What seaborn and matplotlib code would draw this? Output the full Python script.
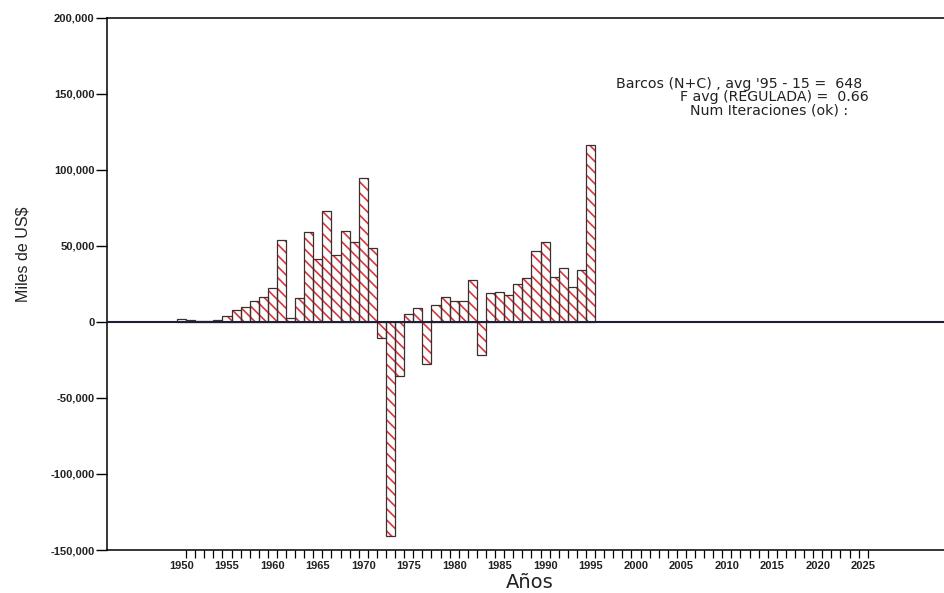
import matplotlib
matplotlib.use("Agg")
import matplotlib.pyplot as plt
from matplotlib.ticker import FuncFormatter
import numpy as np
import seaborn as sns

# valores (miles de US$)
years = list(range(1950, 1996))
values = [1800, 1200, 600, 300, 1200, 4000, 7700, 10000, 13800, 16000, 22500,
          53500, 2400, 15500, 59300, 41100, 72800, 43900, 59700, 52700, 94200, 48800,
          -10900, -140800, -35800, 5000, 9000, -27700, 11000, 16000, 13600, 13600, 27300,
          -21600, 19000, 19700, 17500, 24700, 29100, 46600, 52500, 29500, 35400, 22600,
          33900, 115900]
y_ticks = list(range(-150000, 200001, 50000))
x_labels = list(range(1950, 2026, 5))
notes = ["Barcos (N+C) , avg '95 - 15 =  648",
         "F avg (REGULADA) =  0.66",
         "Num Iteraciones (ok) :"]

sns.set_theme(style="white")
plt.rcParams['font.family'] = ['Liberation Sans', 'DejaVu Sans']
plt.rcParams['hatch.linewidth'] = 1.2

W, H = 945, 593
fig = plt.figure(figsize=(W / 100, H / 100), dpi=100)
ax = fig.add_axes([107 / W, 1 - 550 / H, (W - 107) / W, (550 - 17.5) / H])

# relleno rayado en rojo
sns.barplot(x=years, y=values, native_scale=True, width=1, color="white", saturation=1,
            edgecolor="#d8363c", linewidth=0, hatch="\\\\\\", errorbar=None, ax=ax, zorder=2)
# contorno oscuro
sns.barplot(x=years, y=values, native_scale=True, width=1, fill=False, color="#3b2f2f",
            linewidth=0.9, errorbar=None, ax=ax, zorder=3)

ax.axhline(0, color="#1d2036", lw=1.5, zorder=4)

ax.set_xlim(1941.8, 2034)
ax.set_ylim(-150000, 200000)
ax.set_xlabel("")
ax.set_ylabel("")

for s in ["left", "top", "bottom"]:
    ax.spines[s].set_visible(True)
    ax.spines[s].set_color("black")
    ax.spines[s].set_linewidth(1.1)
ax.spines["right"].set_visible(False)

ax.set_yticks(y_ticks)
ax.yaxis.set_major_formatter(FuncFormatter(lambda v, p: f"{v:,.0f}"))
ax.set_xticks(x_labels)
ax.set_xticks(np.arange(1950.5, 2026, 1), minor=True)
ax.tick_params(axis="y", which="major", left=True, direction="out", length=8, width=1,
               color="black", labelsize=8, pad=1, labelcolor="#222222")
ax.tick_params(axis="x", which="major", bottom=True, length=0, pad=8, labelsize=8,
               labelcolor="#222222")
ax.tick_params(axis="x", which="minor", bottom=True, direction="out", length=6, width=0.9,
               color="black")
plt.setp(ax.get_xticklabels() + ax.get_yticklabels(), fontweight="bold")

fig.text(23.5 / W, 1 - 254 / H, "Miles de US$", rotation=90, ha="center", va="center",
         fontsize=11.5, color="#222222")
fig.text(530 / W, 1 - 588 / H, "Años", ha="center", va="baseline", fontsize=14,
         family=["DejaVu Sans"], color="#222222")

note_x = [739, 774, 769]
note_y = [84, 97, 110]
for txt, nx, ny in zip(notes, note_x, note_y):
    fig.text(nx / W, 1 - ny / H, txt, ha="center", va="center", fontsize=10.2,
             family=["DejaVu Sans"], color="#222222")

fig.savefig("out.png", dpi=100)
plt.close(fig)
